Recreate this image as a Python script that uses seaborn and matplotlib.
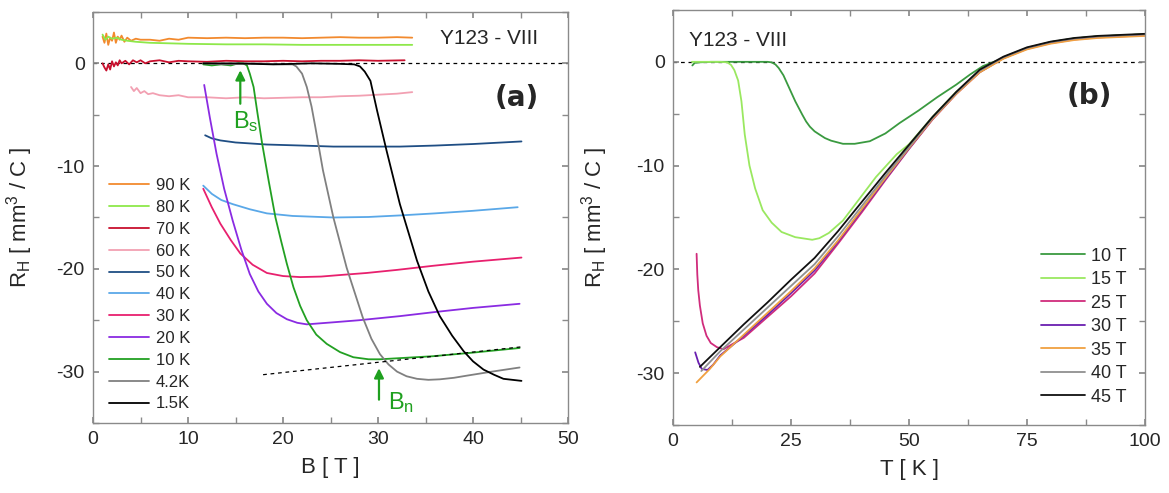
import numpy as np
import pandas as pd
import matplotlib
matplotlib.use('Agg')
import matplotlib.pyplot as plt
from matplotlib.ticker import MultipleLocator
import seaborn as sns

sns.set_theme(style='ticks')
plt.rcParams['font.family'] = ['Liberation Sans', 'DejaVu Sans']
plt.rcParams['mathtext.fontset'] = 'custom'
plt.rcParams['mathtext.rm'] = 'Liberation Sans'
plt.rcParams['mathtext.it'] = 'Liberation Sans:italic'
plt.rcParams['axes.unicode_minus'] = False

# ---------------- panel (a): R_H vs B at fixed T ----------------
b90 = [1.0,1.2,1.4,1.6,1.8,2.0,2.2,2.4,2.6,2.8,3.0,3.3,3.6,4.0,4.5,5.0,6,7,8,9,10,12,14,16,18,20,22,24,26,28,30,32,33.6]
r90 = [2.6,2.0,2.9,1.8,2.5,2.2,3.0,2.0,2.6,2.3,2.7,2.1,2.5,2.2,2.4,2.3,2.3,2.2,2.4,2.3,2.5,2.45,2.5,2.45,2.5,2.5,2.45,2.5,2.55,2.5,2.5,2.55,2.5]
b80 = [1.0,1.3,1.6,2.0,2.5,3.0,3.6,4.5,6,8,10,14,18,22,26,30,33.6]
r80 = [2.8,2.3,2.6,2.4,2.5,2.3,2.2,2.1,2.0,1.95,1.9,1.85,1.85,1.8,1.8,1.8,1.8]
b70 = [1.0,1.2,1.4,1.6,1.8,2.0,2.2,2.4,2.6,2.8,3.0,3.4,3.8,4.2,4.6,5.0,5.5,6,7,8,9,10,12,14,16,18,20,22,24,26,28,30,32.8]
r70 = [0.0,-0.4,-0.7,-0.1,-0.6,0.2,-0.3,0.1,-0.2,0.3,0.0,0.25,-0.1,0.3,0.1,0.3,0.0,0.2,0.3,0.1,0.25,0.2,0.15,0.25,0.2,0.2,0.25,0.2,0.25,0.25,0.3,0.25,0.3]
b60 = [4.0,4.3,4.6,5.0,5.4,5.8,6.3,7,8,9,10,12,14,16,18,20,22,24,26,28,30,32,33.6]
r60 = [-2.3,-2.7,-2.4,-2.9,-2.7,-3.0,-2.9,-3.1,-3.2,-3.1,-3.3,-3.3,-3.4,-3.3,-3.4,-3.35,-3.3,-3.3,-3.2,-3.15,-3.05,-2.95,-2.8]
b50 = [11.8,12.5,13.4,15,18.3,22,25.3,29,32.3,36,40,45.1]
r50 = [-7.0,-7.3,-7.5,-7.7,-7.9,-8.0,-8.1,-8.1,-8.1,-8.0,-7.85,-7.6]
b40 = [11.6,12.5,13.5,14.7,16.5,18.3,21,25.3,29,32.3,36,40,44.7]
r40 = [-11.9,-12.7,-13.3,-13.7,-14.2,-14.6,-14.85,-15.0,-14.95,-14.8,-14.6,-14.35,-14.0]
b30 = [11.6,12.5,13.4,14.5,15.5,16.8,18.3,20,21.8,24,26,28.8,32,35.8,40,45.1]
r30 = [-12.2,-14.0,-15.6,-17.2,-18.5,-19.6,-20.4,-20.7,-20.8,-20.75,-20.6,-20.4,-20.1,-19.7,-19.3,-18.9]
b20 = [11.7,12.3,13.0,13.8,14.7,15.6,16.5,17.4,18.3,19.3,20.4,21.5,22.5,25.3,28,32.3,36,40,44.9]
r20 = [-2.1,-5.3,-8.8,-12.2,-15.3,-18.1,-20.5,-22.2,-23.4,-24.3,-24.9,-25.25,-25.4,-25.2,-25.0,-24.6,-24.2,-23.8,-23.4]
b10 = [11.6,12.5,13.5,14.5,15.3,15.8,16.2,16.5,16.9,17.3,17.8,18.5,19.2,19.8,20.4,21.1,21.8,22.5,23.5,24.6,26,27.4,29,30.2,33,35.8,40,44.9]
r10 = [-0.1,-0.2,-0.1,-0.2,0.0,0.0,-0.2,-1.0,-2.3,-4.8,-7.8,-11.5,-15.0,-17.3,-19.5,-21.8,-23.6,-25.0,-26.4,-27.3,-28.1,-28.6,-28.8,-28.8,-28.65,-28.5,-28.15,-27.7]
b4 = [11.6,14,17,20,21.0,21.4,22.0,22.5,23.0,23.4,24.2,25.3,26.7,28.4,29.3,30.2,31.1,32,33,34.1,35.3,36.5,38,39.3,42,44.9]
r4 = [0.0,-0.1,0.0,-0.1,-0.1,-0.3,-1.0,-2.3,-4.2,-6.2,-10.4,-15.0,-19.9,-24.75,-26.8,-28.3,-29.3,-30.0,-30.45,-30.7,-30.8,-30.75,-30.6,-30.4,-30.0,-29.6]
b1 = [11.6,15,19,23,26,27.5,28.1,28.6,29.2,29.9,30.9,32.3,34.1,35.3,36.5,37.8,39,40,41.1,42.2,43.2,45.1]
r1 = [0.0,0.0,-0.1,0.0,-0.05,-0.1,-0.3,-0.8,-1.7,-4.6,-8.5,-13.7,-19.2,-22.2,-24.6,-26.5,-28.0,-29.0,-29.8,-30.3,-30.7,-30.9]

temps = ['90 K', '80 K', '70 K', '60 K', '50 K', '40 K', '30 K', '20 K', '10 K', '4.2K', '1.5K']
colors_a = ['#f28a2e', '#8ee84a', '#c8102e', '#f2a0b2', '#1f4e84', '#5aa8e8',
            '#e8206e', '#8a2be2', '#22a022', '#808080', '#000000']
curves_a = [(b90, r90), (b80, r80), (b70, r70), (b60, r60), (b50, r50), (b40, r40),
            (b30, r30), (b20, r20), (b10, r10), (b4, r4), (b1, r1)]

# normal-state extrapolation at 10 K and B_s / B_n marks
ext_b = [17.9, 45.0]
ext_r = [-30.3, -27.6]
bs_pos = (15.5, -4.2, -0.4)
bn_pos = (30.1, -33.0, -29.4)

# ---------------- panel (b): R_H vs T at fixed B ----------------
t10 = [4.1,4.6,5.5,8,12,16,20,20.9,21.7,22.4,23.4,24.5,25.9,27.4,28.2,29,30,31,32.2,33.5,36,38.5,41.7,45,48,52,56,60,63,65.7,70,75,80,85,90,95,100]
h10 = [-0.35,-0.1,-0.05,0.0,0.0,0.0,0.0,-0.05,-0.25,-0.6,-1.3,-2.4,-3.8,-5.1,-5.75,-6.25,-6.7,-7.0,-7.35,-7.6,-7.9,-7.9,-7.65,-6.9,-5.9,-4.7,-3.4,-2.2,-1.2,-0.4,0.35,1.3,1.9,2.25,2.45,2.55,2.65]
t15 = [4.0,6,8,10,11.5,12.3,13.0,13.8,14.5,15.2,16.2,17.4,19,20.9,23,25.9,29.5,31,33,36,39.5,43,47.4,50,55,60,65,70,75,80,85,90,95,100]
h15 = [0.0,0.0,0.0,0.0,-0.05,-0.3,-0.8,-1.8,-3.8,-7.0,-10.0,-12.2,-14.3,-15.5,-16.4,-16.9,-17.15,-17.0,-16.5,-15.3,-13.2,-11.1,-8.9,-7.95,-5.3,-2.9,-1.0,0.35,1.3,1.9,2.25,2.45,2.55,2.65]
t25 = [5.0,5.15,5.35,5.7,6.3,7.1,8.0,9.3,10.7,13,15,20,25,30,35,40,45,50,55,60,65,70,75,80,85,90,95,100]
h25 = [-18.5,-20.5,-22.0,-23.5,-25.2,-26.4,-27.1,-27.5,-27.7,-27.1,-26.6,-24.6,-22.6,-20.4,-17.5,-14.5,-11.4,-8.4,-5.55,-3.1,-1.0,0.35,1.25,1.8,2.15,2.35,2.45,2.55]
t30 = [4.7,5.4,6.1,7.3,8.5,10,15,20,25,30,35,40,45,50,55,60,65,70,75,80,85,90,95,100]
h30 = [-28.0,-29.0,-29.6,-29.7,-29.2,-28.3,-26.4,-24.4,-22.3,-20.1,-17.3,-14.3,-11.3,-8.35,-5.5,-3.05,-0.95,0.4,1.3,1.85,2.2,2.4,2.5,2.6]
t35 = [5.0,7.8,10,15,20,25,30,35,40,45,50,55,60,65,70,75,80,85,90,95,100]
h35 = [-30.9,-29.6,-28.4,-26.3,-24.2,-22.1,-19.9,-17.2,-14.2,-11.2,-8.3,-5.5,-3.1,-1.0,0.3,1.2,1.75,2.1,2.3,2.4,2.5]
t40 = [6.0,10,15,20,25,30,35,40,45,50,55,60,65,70,75,80,85,90,95,100]
h40 = [-29.8,-27.9,-25.8,-23.7,-21.6,-19.5,-16.8,-13.9,-11.0,-8.2,-5.4,-3.0,-0.85,0.45,1.35,1.9,2.25,2.45,2.55,2.65]
t45 = [5.7,10,15,20,25,30,35,40,45,50,55,60,65,70,75,80,85,90,95,100]
h45 = [-29.4,-27.5,-25.3,-23.2,-21.0,-18.9,-16.3,-13.5,-10.7,-8.0,-5.3,-2.9,-0.75,0.5,1.4,1.95,2.3,2.5,2.6,2.7]

fields = ['10 T', '15 T', '25 T', '30 T', '35 T', '40 T', '45 T']
colors_b = ['#3a9a40', '#9ae860', '#d02c7c', '#6a1fb0', '#f0a040', '#909090', '#101010']
curves_b = [(t10, h10), (t15, h15), (t25, h25), (t30, h30), (t35, h35), (t40, h40), (t45, h45)]

fig = plt.figure(figsize=(11.69, 4.93), dpi=100)
ax1 = fig.add_axes([0.0796, 0.142, 0.4063, 0.8337])
ax2 = fig.add_axes([0.5757, 0.138, 0.4038, 0.8418])

frame = '#8a8a8a'
green = '#1fa01f'


def style_axis(ax, xmaj, xmin):
    ax.xaxis.set_major_locator(MultipleLocator(xmaj))
    ax.xaxis.set_minor_locator(MultipleLocator(xmin))
    ax.yaxis.set_major_locator(MultipleLocator(10))
    ax.yaxis.set_minor_locator(MultipleLocator(5))
    ax.tick_params(which='both', direction='in', top=True, right=True, length=4,
                   color=frame, labelsize=14, pad=6)
    for s in ax.spines.values():
        s.set_color(frame)
        s.set_linewidth(1.0)
    ax.set_ylim(-35, 5)


for lab, col, (x, y) in zip(temps, colors_a, curves_a):
    df = pd.DataFrame({'B': x, 'RH': y})
    sns.lineplot(data=df, x='B', y='RH', ax=ax1, color=col, lw=1.3, label=lab,
                 sort=False, estimator=None)
ax1.axhline(0, color='black', lw=0.9, ls=(0, (3, 3)), zorder=0.5)
ax1.plot(ext_b, ext_r, color='black', lw=0.9, ls=(0, (3, 3)))
ax1.set_xlim(0, 50)
style_axis(ax1, 10, 5)
ax1.set_xlabel('B [ T ]', fontsize=16, labelpad=6)
ax1.set_ylabel(r'R$_\mathrm{H}$ [ mm$^3$ / C ]', fontsize=16)
ax1.yaxis.set_label_coords(-0.122, 0.5)
ax1.legend(loc='upper left', bbox_to_anchor=(0.034, 0.596), frameon=False,
           fontsize=12, handlelength=2.4, handletextpad=0.4, labelspacing=0.41,
           borderpad=0, borderaxespad=0)

for bx, y0, y1 in (bs_pos, bn_pos):
    ax1.annotate('', xy=(bx, y1), xytext=(bx, y0),
                 arrowprops=dict(arrowstyle='-|>', color=green, lw=1.6, mutation_scale=14))
ax1.text(14.7, -6.3, r'B$_\mathrm{s}$', color=green, fontsize=17, va='baseline')
ax1.text(31.0, -33.6, r'B$_\mathrm{n}$', color=green, fontsize=17, va='baseline')
ax1.text(36.5, 2.4, 'Y123 - VIII', fontsize=15, va='center', ha='left')
ax1.text(44.6, -3.4, '(a)', fontsize=20, fontweight='bold', ha='center', va='center',
         family=['DejaVu Sans'])

for lab, col, (x, y) in zip(fields, colors_b, curves_b):
    df = pd.DataFrame({'T': x, 'RH': y})
    sns.lineplot(data=df, x='T', y='RH', ax=ax2, color=col, lw=1.3, label=lab,
                 sort=False, estimator=None)
ax2.axhline(0, color='black', lw=0.9, ls=(0, (3, 3)), zorder=0.5)
ax2.set_xlim(0, 100)
style_axis(ax2, 25, 12.5)
ax2.set_xlabel('T [ K ]', fontsize=16, labelpad=6)
ax2.set_ylabel(r'R$_\mathrm{H}$ [ mm$^3$ / C ]', fontsize=16)
ax2.yaxis.set_label_coords(-0.133, 0.5)
ax2.legend(loc='upper left', bbox_to_anchor=(0.78, 0.427), frameon=False,
           fontsize=13, handlelength=2.4, handletextpad=0.35, labelspacing=0.36,
           borderpad=0, borderaxespad=0)
ax2.text(3.4, 2.1, 'Y123 - VIII', fontsize=15, va='center', ha='left')
ax2.text(88.3, -3.3, '(b)', fontsize=20, fontweight='bold', ha='center', va='center',
         family=['DejaVu Sans'])

fig.savefig('out.png', dpi=100)
